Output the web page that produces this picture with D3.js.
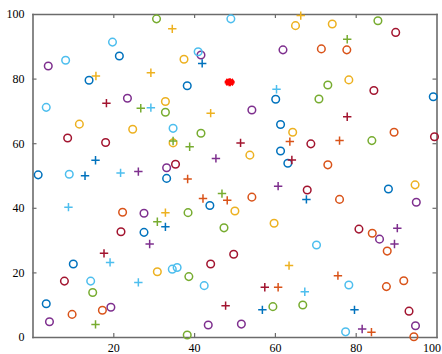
<!DOCTYPE html>
<html>
<head>
<meta charset="utf-8">
<script src="https://cdn.jsdelivr.net/npm/d3@7"></script>
<style>
html,body{margin:0;padding:0;background:#fff;}
svg{display:block;}
</style>
</head>
<body>
<script>
// ---- data (x, y pairs) ----
const blueCircles = [[21.5,87],[14,79.5],[38.3,77.8],[60.2,73.6],[99.2,74.4],[1.4,50.2],[33.2,49.1],[61.4,65.8],[61.4,57.6],[63.2,53.8],[43.9,40.7],[88.1,45.8],[27.6,32.4],[10.1,22.6],[3.4,10.3]];
const bluePlus = [[42,84.7],[15.6,54.7],[13,49.9],[32.9,34.1],[67.8,42.6],[56.9,8.4],[79.7,8.4]];
const orangeCircles = [[71.5,89.2],[77.8,88.9],[22.3,38.6],[54.3,43.3],[89.5,63.4],[73.1,53.3],[76,42.6],[9.8,7],[17.3,8.3],[84.1,32.1],[87.8,26.6],[87.6,15.6],[91.9,17.4],[94.4,0.1]];
const orangePlus = [[63.7,60.5],[38.4,48.9],[42.2,42.9],[48.2,42.3],[76,60.8],[60.8,15.4],[75.6,19],[83.9,1.5]];
const yellowCircles = [[32.9,72.9],[65.1,96.4],[37.5,86],[74.2,96.9],[78.3,79.6],[11.6,65.9],[24.8,64.3],[34.8,60.1],[53.8,56.3],[64.4,63.4],[50.1,39],[59.8,35.2],[94.7,47.1],[30.9,20.2]];
const yellowPlus = [[15.7,80.8],[29.3,81.8],[34.6,95.4],[66.4,99.5],[44.1,69.3],[32.9,38.5],[63.5,22.1]];
const purpleCircles = [[3.9,83.9],[23.5,73.9],[41.7,87.3],[62,88.9],[54.3,70.3],[33.2,52.4],[27.6,38.3],[95,41.7],[19.4,9.2],[4.2,4.7],[43.5,3.7],[51.7,4],[85.9,30.3],[94.8,3.5]];
const purplePlus = [[26.2,51.2],[45.4,55.3],[60.8,46.7],[29,28.8],[90.3,33.7],[89.6,28.8],[81.6,2.5]];
const greenCircles = [[30.7,98.5],[32.9,69.6],[85.5,97.9],[73.1,78],[70.9,73.7],[41.7,63.1],[84,60.8],[38.5,38.5],[47.4,33.8],[14.9,13.8],[38.7,18.7],[59.5,9.4],[66.9,9.9],[38.3,0.6]];
const greenPlus = [[26.8,70.8],[77.9,92.2],[34.8,60.7],[38.9,58.9],[46.9,44.4],[30.9,35.7],[15.6,3.9]];
const lightBlueCircles = [[19.8,91.3],[8.2,85.7],[3.4,71.1],[49.1,98.5],[41,88.3],[34.8,64.6],[9.1,50.4],[14.4,17.3],[34.6,21],[35.8,21.5],[42.5,15.9],[70.3,28.5],[78.3,16.1],[77.5,1.6]];
const lightBluePlus = [[29.3,71],[60.4,76.7],[21.8,50.8],[8.9,40.2],[19.2,23.1],[26.2,16.9],[67.4,14]];
const darkRedCircles = [[89.9,94.3],[84.5,76.3],[8.7,61.6],[18.1,60.2],[35.4,53.5],[99.5,62],[68.9,59.8],[68,45.5],[21.9,32.6],[7.9,17.3],[49.8,25.6],[44.1,22.6],[80.8,33.4],[93.2,8]];
const darkRedPlus = [[18.3,72.4],[77.9,68.2],[51.5,60.1],[64.2,54.8],[17.7,25.9],[57.5,15.4],[47.8,9.7]];
const highlight = [[48.8,78.9]];
const xTicks = [20,40,60,80,100];
const yTicks = [0,20,40,60,80,100];

const series = [
  {pts: blueCircles, color: "#0072BD", shape: "o"},
  {pts: orangeCircles, color: "#D95319", shape: "o"},
  {pts: yellowCircles, color: "#EDB120", shape: "o"},
  {pts: purpleCircles, color: "#7E2F8E", shape: "o"},
  {pts: greenCircles, color: "#77AC30", shape: "o"},
  {pts: lightBlueCircles, color: "#4DBEEE", shape: "o"},
  {pts: darkRedCircles, color: "#A2142F", shape: "o"},
  {pts: bluePlus, color: "#0072BD", shape: "+"},
  {pts: orangePlus, color: "#D95319", shape: "+"},
  {pts: yellowPlus, color: "#EDB120", shape: "+"},
  {pts: purplePlus, color: "#7E2F8E", shape: "+"},
  {pts: greenPlus, color: "#77AC30", shape: "+"},
  {pts: lightBluePlus, color: "#4DBEEE", shape: "+"},
  {pts: darkRedPlus, color: "#A2142F", shape: "+"}
];

const W = 442, H = 354;
const svg = d3.select("body").append("svg").attr("width", W).attr("height", H);
const x = d3.scaleLinear().domain([0,100]).range([32.5, 436.5]);
const y = d3.scaleLinear().domain([0,100]).range([337, 14]);

const font = "'Liberation Serif','Times New Roman',serif";
const axisColor = "#6b6b6b";

function styleAxis(g){
  g.select(".domain").attr("stroke", axisColor).attr("stroke-width", 1.6).attr("stroke-linecap", "square");
  g.selectAll(".tick line").attr("stroke", axisColor).attr("stroke-width", 1.2);
  g.selectAll(".tick text").attr("font-family", font).attr("font-size", 12).attr("fill", "#000");
}
const xAxis = svg.append("g").attr("transform", `translate(0,${y(0)})`)
  .call(d3.axisBottom(x).tickValues(xTicks).tickSizeInner(-4).tickSizeOuter(0).tickPadding(6));
styleAxis(xAxis);
const lastX = xAxis.selectAll(".tick").filter(d => d === 100);
lastX.select("line").remove();
lastX.select("text").attr("dx", -5);
const yAxis = svg.append("g").attr("transform", `translate(${x(0)},0)`)
  .call(d3.axisLeft(y).tickValues(yTicks).tickSizeInner(-4).tickSizeOuter(0).tickPadding(8));
styleAxis(yAxis);
yAxis.selectAll(".tick").filter(d => d === 0 || d === 100).select("line").remove();
const xTop = svg.append("g").attr("transform", `translate(0,${y(100)})`)
  .call(d3.axisTop(x).tickValues(xTicks.filter(d=>d<100)).tickSizeInner(-4).tickSizeOuter(0).tickFormat(""));
styleAxis(xTop);
const yRight = svg.append("g").attr("transform", `translate(${x(100)},0)`)
  .call(d3.axisRight(y).tickValues(yTicks.filter(d=>d>0&&d<100)).tickSizeInner(-4).tickSizeOuter(0).tickFormat(""));
styleAxis(yRight);

// markers
const plot = svg.append("g");
const r = 3.8, s = 4.2;
series.forEach(se => {
  const g = plot.append("g").attr("stroke", se.color).attr("fill", "none").attr("stroke-width", 1.5);
  if (se.shape === "o") {
    g.selectAll("circle").data(se.pts).join("circle")
      .attr("cx", d => x(d[0])).attr("cy", d => y(d[1])).attr("r", r);
  } else {
    g.selectAll("path").data(se.pts).join("path")
      .attr("d", d => `M${x(d[0])-s},${y(d[1])}h${2*s}M${x(d[0])},${y(d[1])-s}v${2*s}`);
  }
});

// highlighted red star
const hg = plot.append("g").attr("stroke", "#FF0000").attr("stroke-width", 2.6).attr("fill", "none");
hg.selectAll("path").data(highlight).join("path")
  .attr("d", d => {
    const cx = x(d[0]), cy = y(d[1]), a = 5, b = 3.6;
    return `M${cx-a},${cy}h${2*a}M${cx},${cy-a+1}v${2*a-2}M${cx-b},${cy-b+0.8}L${cx+b},${cy+b-0.8}M${cx-b},${cy+b-0.8}L${cx+b},${cy-b+0.8}`;
  });
</script>
</body>
</html>
